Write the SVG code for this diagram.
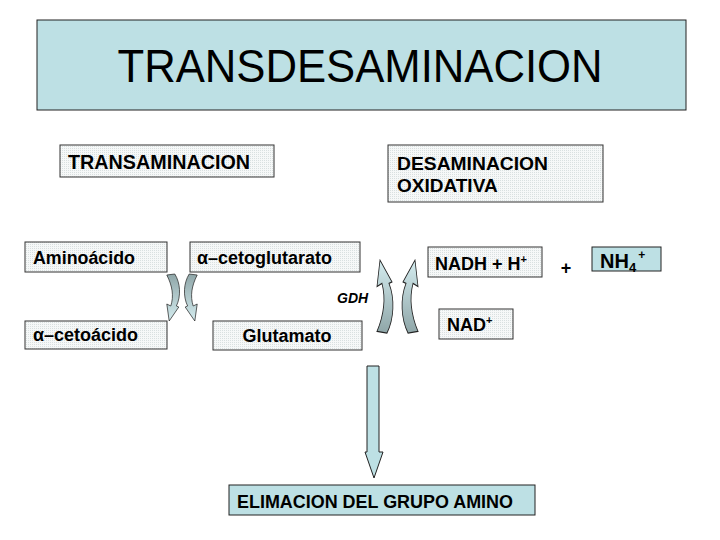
<svg xmlns="http://www.w3.org/2000/svg" width="720" height="540" viewBox="0 0 720 540">
<defs>
<pattern id="dots" width="2" height="2" patternUnits="userSpaceOnUse">
<rect width="2" height="2" fill="#F6F8F8"/>
<rect width="1" height="1" fill="#D9E0E0"/>
</pattern>
<linearGradient id="cg" x1="0" y1="0" x2="0" y2="1">
<stop offset="0" stop-color="#8FA6A8"/>
<stop offset="1" stop-color="#D4ECEF"/>
</linearGradient>
<path id="carrow" d="M1,1 L11,0 C18,9 19,22 13,32 L16,33 L4,47 L1,30 L6,32 C10,22 8,12 1,1 Z"/>
</defs>
<style>
.box{fill:url(#dots);stroke:#333;stroke-width:1}
.blue{fill:#BDE0E4;stroke:#222;stroke-width:1}
.t{font-family:"Liberation Sans",Arial,sans-serif;font-weight:bold;font-size:18px;fill:#000}
.ca{fill:url(#cg);stroke:#222;stroke-width:0.8}
</style>
<g id="title">
<rect x="37" y="20" width="649" height="90" class="blue"/>
<text x="360" y="82" text-anchor="middle" font-family="Liberation Sans, Arial, sans-serif" font-size="46" textLength="485" lengthAdjust="spacingAndGlyphs">TRANSDESAMINACION</text>
</g>
<g id="transaminacion">
<rect x="60" y="145" width="214" height="32" class="box"/>
<text x="68" y="169" class="t" style="font-size:20px" textLength="182" lengthAdjust="spacingAndGlyphs">TRANSAMINACION</text>
</g>
<g id="desaminacion">
<rect x="388" y="145" width="215" height="57" class="box"/>
<text x="397" y="170" class="t" style="font-size:19px" textLength="151" lengthAdjust="spacingAndGlyphs">DESAMINACION</text>
<text x="397" y="192" class="t" style="font-size:19px">OXIDATIVA</text>
</g>
<g id="aminoacido">
<rect x="25" y="242" width="142" height="30" class="box"/>
<text x="33" y="264" class="t" textLength="102" lengthAdjust="spacingAndGlyphs">Aminoácido</text>
</g>
<g id="cetoglutarato">
<rect x="190" y="242" width="170" height="30" class="box"/>
<text x="197" y="264" class="t" textLength="135" lengthAdjust="spacingAndGlyphs">α–cetoglutarato</text>
</g>
<g id="cetoacido">
<rect x="25" y="321" width="142" height="28" class="box"/>
<text x="33" y="341" class="t">α–cetoácido</text>
</g>
<g id="glutamato">
<rect x="213" y="321" width="149" height="29" class="box"/>
<text x="287" y="342" class="t" text-anchor="middle">Glutamato</text>
</g>
<g id="gdh">
<text x="337" y="303" font-family="Liberation Sans, Arial, sans-serif" font-style="italic" font-weight="bold" font-size="14">GDH</text>
</g>
<g id="nadh">
<rect x="428" y="247" width="114" height="30" class="box"/>
<text x="435" y="270" class="t">NADH + H<tspan font-size="11" dy="-7">+</tspan></text>
</g>
<g id="nad">
<rect x="439" y="309" width="74" height="30" class="box"/>
<text x="447" y="331" class="t">NAD<tspan font-size="11" dy="-7">+</tspan></text>
</g>
<g id="plus">
<text x="566" y="274" class="t" text-anchor="middle">+</text>
</g>
<g id="nh4">
<rect x="592" y="247" width="69" height="24" class="blue"/>
<text x="600" y="268" class="t" style="font-size:20px">NH<tspan font-size="13" dy="4">4</tspan><tspan font-size="12" dy="-13" dx="2">+</tspan></text>
</g>
<g id="eliminacion">
<rect x="229" y="485" width="306" height="30" class="blue"/>
<text x="237" y="508" class="t" textLength="276" lengthAdjust="spacingAndGlyphs">ELIMACION DEL GRUPO AMINO</text>
</g>
<g id="connectors">
<use href="#carrow" class="ca" transform="translate(166,274) scale(0.8,1)"/>
<use href="#carrow" class="ca" transform="translate(198,274) scale(-0.8,1)"/>
<use href="#carrow" class="ca" transform="translate(376,333) scale(1,-1.55)"/>
<use href="#carrow" class="ca" transform="translate(419,333) scale(-1,-1.55)"/>
<polygon points="367,366 379,366 379,452 383,452 374,478 365,452 367,452" fill="#BDE0E4" stroke="#222" stroke-width="1"/>
</g>
</svg>
